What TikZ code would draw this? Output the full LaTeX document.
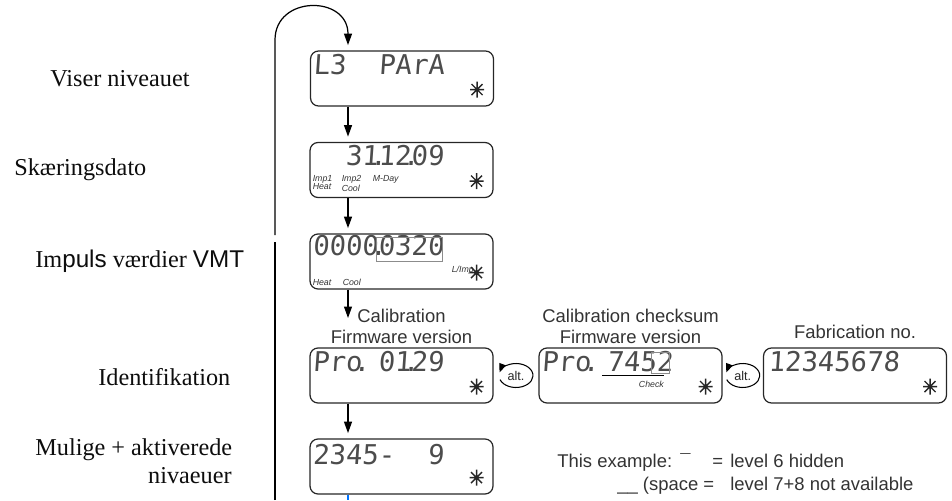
\documentclass[tikz,border=0pt]{standalone}
\usepackage{fontspec}
\setmainfont{Liberation Sans}
\setsansfont{Liberation Sans}
\newfontfamily\labelfont{Liberation Serif}
\newfontfamily\lcdfont[FakeSlant=0.07]{DejaVu Sans Mono}
\usetikzlibrary{arrows.meta, calc, positioning}

% decimal point of the display, takes no room
\newcommand{\lcdpt}{\makebox[0pt]{.}}

\tikzset{
  lcdbox/.style={draw=black!85, line width=0.7pt, rounded corners=0.16cm,
    minimum width=3.66cm, minimum height=1.1cm, inner sep=0pt},
  lcdtxt/.style={font=\lcdfont\fontsize{15.5}{16}\selectfont, text=black!70,
    inner sep=0pt, anchor=base west},
  smalltag/.style={font=\itshape\fontsize{5}{4.6}\selectfont, inner sep=0pt,
    align=left, text=black!80},
  lbl/.style={font=\labelfont\fontsize{13.8}{16}\selectfont, text=black!95,
    inner sep=0pt, anchor=base west},
  toplbl/.style={font=\fontsize{10.5}{11.8}\selectfont, text=black!80,
    align=center, inner sep=0pt},
  note/.style={font=\fontsize{10.5}{12}\selectfont, text=black!80,
    inner sep=0pt, anchor=base west},
  altlbl/.style={font=\fontsize{7.2}{8}\selectfont, text=black!85, inner sep=0pt},
  flow/.style={->, line width=0.7pt, shorten >=3pt},
  astline/.style={line width=0.8pt, black!85},
  segframe/.style={draw=black!45, line width=0.5pt}
}

\begin{document}
\begin{tikzpicture}[x=0.02cm, y=-0.02cm, >={Triangle[length=6.5pt,width=4.5pt]}]
  \useasboundingbox (0,0) rectangle (952,500);
  % the displays
  \node[lcdbox] (lvl)   at (402,78.5)   {};
  \node[lcdbox] (dato)  at (401.5,170)  {};
  \node[lcdbox] (imp)   at (401.5,261.5) {};
  \node[lcdbox] (ident) at (401.5,375.5) {};
  \node[lcdbox] (niv)   at (401.5,466.5) {};
  \node[lcdbox] (chk)   at (630.5,375.5) {};
  \node[lcdbox] (fab)   at (855,375.5)  {};
  % what they show
  \node[lcdtxt] (lvlval)   at ($(lvl.north west)+(3,24)$)   {L3\ \ PArA};
  \node[lcdtxt] (datoval)  at ($(dato.north west)+(3,24)$)  {\ \ 31\lcdpt12\lcdpt09};
  \node[lcdtxt] (impval)   at ($(imp.north west)+(3,22)$)   {0000\lcdpt0320};
  \node[lcdtxt] (identval) at ($(ident.north west)+(3,24)$) {Pro\lcdpt\ 01\lcdpt29};
  \node[lcdtxt] (nivval)   at ($(niv.north west)+(3,26)$)   {2345-\ \ 9};
  \node[lcdtxt] (chkval)   at ($(chk.north west)+(3,24)$)   {Pro\lcdpt\ 7452};
  \node[lcdtxt] (fabval)   at ($(fab.north west)+(5,24)$)   {12345678};
  % small marks in the displays
  \node[smalltag, anchor=north west] (imp1) at ($(dato.north west)+(3,33)$)  {Imp1\\Heat};
  \node[smalltag, anchor=north west] (imp2) at ($(dato.north west)+(32,33)$) {Imp2\\Cool};
  \node[smalltag, anchor=north west] (mday) at ($(dato.north west)+(63,33)$) {M-Day};
  \node[smalltag, anchor=west] (heat) at ($(imp.north west)+(3,49)$)   {Heat};
  \node[smalltag, anchor=west] (cool) at ($(imp.north west)+(33,49)$)  {Cool};
  \node[smalltag, anchor=west] (limp) at ($(imp.north west)+(142,37)$) {L/Imp};
  \node[smalltag] (check) at ($(chk.north west)+(113,37)$) {Check};
  \draw[segframe] ($(imp.north west)+(67,4)$) rectangle ($(imp.north west)+(133,28)$);
  \draw[line width=0.6pt] ($(chk.north west)+(64,28)$) -- ($(chk.north west)+(126,28)$);
  \draw[segframe] ($(chk.north west)+(113,5)$) rectangle ($(chk.north west)+(131,26)$);
  % asterisk in each corner
  \foreach \b in {lvl,dato,imp,ident,niv,chk,fab}
    \draw[astline] ($(\b.south east)+(-17,-25)$) -- ++(0,16)
                   ($(\b.south east)+(-24,-17)$) -- ++(14,0)
                   ($(\b.south east)+(-22.5,-22.5)$) -- ++(11,11)
                   ($(\b.south east)+(-22.5,-11.5)$) -- ++(11,-11);
  % flow down
  \coordinate (ax) at (348,0);
  \draw[flow] (lvl.south -| ax) -- (dato.north -| ax);
  \draw[flow] (dato.south -| ax) -- (imp.north -| ax);
  \coordinate (calend) at (348,318);
  \draw[flow, shorten >=0pt] (imp.south -| ax) -- (calend);
  \draw[flow] (ident.south -| ax) -- (niv.north -| ax);
  \coordinate (nivout) at (348,500);
  \draw[line width=0.7pt, blue!55!cyan] (niv.south -| ax) -- (nivout);
  % loop back to the top
  \coordinate (loopbot) at (275,500);
  \coordinate (gaplo) at (275,242);
  \coordinate (gaphi) at (275,235);
  \coordinate (looptop) at (275,40);
  \draw[line width=0.7pt] (loopbot) -- (gaplo);
  \draw[flow] (gaphi) -- (looptop) .. controls (275,-5) and (348,-5) .. (lvl.north -| ax);
  % alternating displays
  \node[altlbl] (alt1) at ($(ident.east)!0.5!(chk.west)$) {alt.};
  \node[altlbl] (alt2) at ($(chk.east)!0.5!(fab.west)$) {alt.};
  \foreach \a in {alt1,alt2}
    \draw[-{Triangle[length=5pt,width=4pt]}, line width=0.6pt]
      ($(\a)+(-16,4.1)$) arc[start angle=200, end angle=525, x radius=0.34cm, y radius=0.24cm];
  % captions above the displays
  \node[toplbl, above=2pt of ident] (calib)  {Calibration\\Firmware version};
  \node[toplbl, above=2pt of chk]   (calchk) {Calibration checksum\\Firmware version};
  \node[toplbl, above=5pt of fab]   (fabno)  {Fabrication no.};
  % level names
  \node[lbl] (viser)    at (50,87)  {Viser niveauet};
  \node[lbl] (skaer)    at (14,175) {Skæringsdato};
  \node[lbl] (impuls)   at (35,267) {Im{\sffamily puls} værdier {\sffamily VMT}};
  \node[lbl] (identlbl) at (98,385) {Identifikation};
  \node[lbl] (mulige)   at (35,455) {Mulige + aktiverede};
  \node[lbl, anchor=base east] (nivlbl) at (232,483) {nivaeuer};
  % note at the bottom
  \node[note] (ex1)   at (557,467) {This example:};
  \node[note] (macr)  at (680,467) {¯};
  \node[note] (eq1)   at (712,467) {=};
  \node[note] (lvl6)  at (730,467) {level 6 hidden};
  \node[note] (ex2)   at (617,490) {\_\_ (space};
  \node[note] (eq2)   at (703,490) {=};
  \node[note] (lvl78) at (730,490) {level 7+8 not available};
\end{tikzpicture}
\end{document}
